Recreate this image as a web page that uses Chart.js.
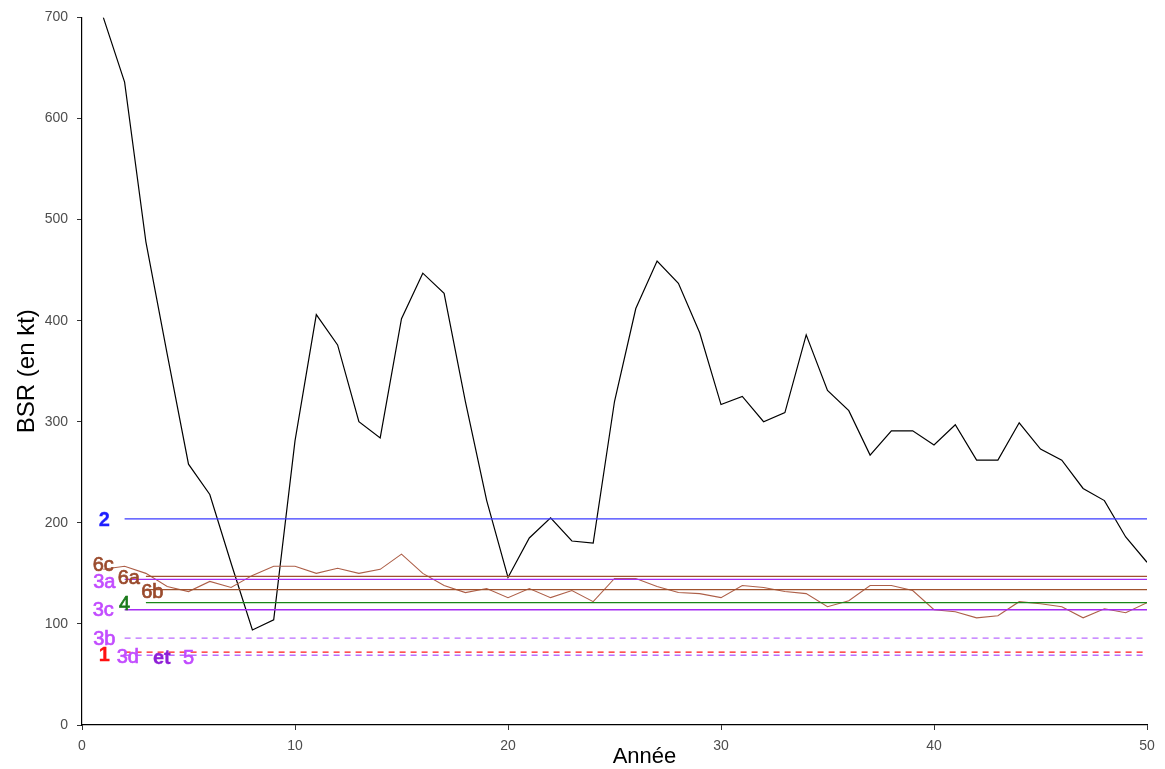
<!DOCTYPE html>
<html>
<head>
<meta charset="utf-8">
<script src="https://cdn.jsdelivr.net/npm/chart.js@4.4.1/dist/chart.umd.min.js"></script>
<style>
  html, body { margin: 0; padding: 0; background: #ffffff; }
  #wrap { width: 1165px; height: 769px; }
</style>
</head>
<body>
<div id="wrap"><canvas id="c" width="1165" height="769"></canvas></div>
<script>
// Years of the simulation
const years = Array.from({ length: 50 }, (_, i) => i + 1);

// Simulated spawning biomass (BSR, kt)
const bsr = [700, 636, 478, 367, 258, 228, 160, 94, 104, 281,
             406, 376, 300, 284, 402, 447, 427, 320, 222, 146,
             185, 205, 182, 180, 320, 412, 459, 437, 388, 317,
             325, 300, 309, 386, 331, 311, 267, 291, 291, 277,
             297, 262, 262, 299, 273, 262, 234, 222, 186, 161];

// Reference point 6c (varies by year)
const ref6c = [154, 157, 150, 137, 132, 142, 136, 148, 157, 157,
               150, 155, 150, 154, 169, 150, 138, 131, 135, 126,
               135, 126, 133, 122, 145, 145, 137, 131, 130, 126,
               138, 136, 132, 130, 117, 123, 138, 138, 133, 114,
               112, 106, 108, 122, 120, 117, 106, 115, 111, 121];

// Constant reference points
const refNames  = ['2', '6a', '3a', '6b', '4', '3c', '3b', '1', '3d'];
const refValues = [204, 147, 144, 134, 121, 114, 86, 72, 69];
const refStart  = [2, 3, 2, 3, 3, 2, 2, 2, 2];
const refEnd    = 50;

// Text labels: text, year, value
const labelTexts  = ['2', '6c', '3a', '6a', '6b', '4', '3c', '3b', '1', '3d', 'et', '5'];
const labelYears  = [1.05, 1.0, 1.05, 2.2, 3.3, 2.0, 1.0, 1.05, 1.05, 2.15, 3.75, 5.0];
const labelValues = [202, 158, 141, 145, 131, 119, 113, 85, 69, 67, 66, 66];

// Styling
const refStyle = {
  '2':  { color: '#3b3bff', dash: [] },
  '6a': { color: '#a0522d', dash: [] },
  '3a': { color: '#a62cf2', dash: [] },
  '6b': { color: '#a0522d', dash: [] },
  '4':  { color: '#1a861a', dash: [] },
  '3c': { color: '#a62cf2', dash: [] },
  '3b': { color: '#bb6bff', dash: [6, 5] },
  '1':  { color: '#ff1a1a', dash: [6, 5] },
  '3d': { color: '#bb6bff', dash: [6, 5] }
};
const labelStyle = {
  '2':  { color: '#1f1fff', bold: true },
  '6c': { color: '#9a4a2c', bold: false },
  '3a': { color: '#c24cff', bold: false },
  '6a': { color: '#9a4a2c', bold: false },
  '6b': { color: '#9a4a2c', bold: false },
  '4':  { color: '#1b7a1b', bold: false },
  '3c': { color: '#c24cff', bold: false },
  '3b': { color: '#c24cff', bold: false },
  '1':  { color: '#ff1010', bold: true },
  '3d': { color: '#c24cff', bold: false },
  'et': { color: '#8f1fd6', bold: true },
  '5':  { color: '#c24cff', bold: false }
};

const FONT = "'Liberation Sans', Arial, sans-serif";

const datasets = [];
refNames.forEach((name, i) => {
  datasets.push({
    label: name,
    data: [{ x: refStart[i], y: refValues[i] }, { x: refEnd, y: refValues[i] }],
    borderColor: refStyle[name].color,
    borderDash: refStyle[name].dash,
    borderWidth: 1.3,
    pointRadius: 0,
    tension: 0
  });
});
datasets.push({
  label: '6c',
  data: years.map((y, i) => ({ x: y, y: ref6c[i] })),
  borderColor: '#ad5f48',
  borderWidth: 1.1,
  pointRadius: 0,
  tension: 0
});
datasets.push({
  label: 'BSR',
  data: years.map((y, i) => ({ x: y, y: bsr[i] })),
  borderColor: '#000000',
  borderWidth: 1.2,
  pointRadius: 0,
  tension: 0
});

const labelPlugin = {
  id: 'refLabels',
  afterDatasetsDraw(chart) {
    const { ctx, scales: { x, y }, chartArea } = chart;
    ctx.save();
    ctx.textAlign = 'center';
    ctx.textBaseline = 'middle';
    labelTexts.forEach((t, i) => {
      const st = labelStyle[t];
      ctx.font = (st.bold ? 'bold ' : '') + '20px ' + FONT;
      ctx.fillStyle = st.color;
      ctx.strokeStyle = st.color;
      ctx.lineWidth = st.bold ? 0.3 : 0.7;
      const px = x.getPixelForValue(labelYears[i]);
      const py = y.getPixelForValue(labelValues[i]);
      ctx.fillText(t, px, py);
      ctx.strokeText(t, px, py);
    });
    // x-axis title, set a little right of the plot centre
    ctx.font = '22px ' + FONT;
    ctx.fillStyle = '#000000';
    ctx.fillText('Année', (chartArea.left + chartArea.right) / 2 + 30, 757);
    ctx.restore();
  }
};

new Chart(document.getElementById('c'), {
  type: 'line',
  data: { datasets },
  plugins: [labelPlugin],
  options: {
    responsive: false,
    animation: false,
    events: [],
    layout: { padding: { top: 15, right: 18, left: 0, bottom: 0 } },
    plugins: { legend: { display: false }, tooltip: { enabled: false } },
    scales: {
      x: {
        type: 'linear',
        min: 0, max: 50,
        ticks: { stepSize: 10, color: '#4d4d4d', font: { family: FONT, size: 14 }, padding: 8, maxRotation: 0 },
        grid: { display: true, drawOnChartArea: false, drawTicks: true, tickLength: 5, color: '#333333' },
        border: { display: true, color: '#000000', width: 1.2 },
        title: { display: false },
        afterFit(s) { s.height = 44; }
      },
      y: {
        min: 0, max: 700,
        ticks: { stepSize: 100, color: '#4d4d4d', font: { family: FONT, size: 14 }, padding: 9 },
        grid: { display: true, drawOnChartArea: false, drawTicks: true, tickLength: 5, color: '#333333' },
        border: { display: true, color: '#000000', width: 1.2 },
        title: { display: true, text: 'BSR (en kt)', color: '#000000', font: { family: FONT, size: 24 }, padding: { top: 13, bottom: 0 } },
        afterFit(s) { s.width = 82; }
      }
    }
  }
});
</script>
</body>
</html>
